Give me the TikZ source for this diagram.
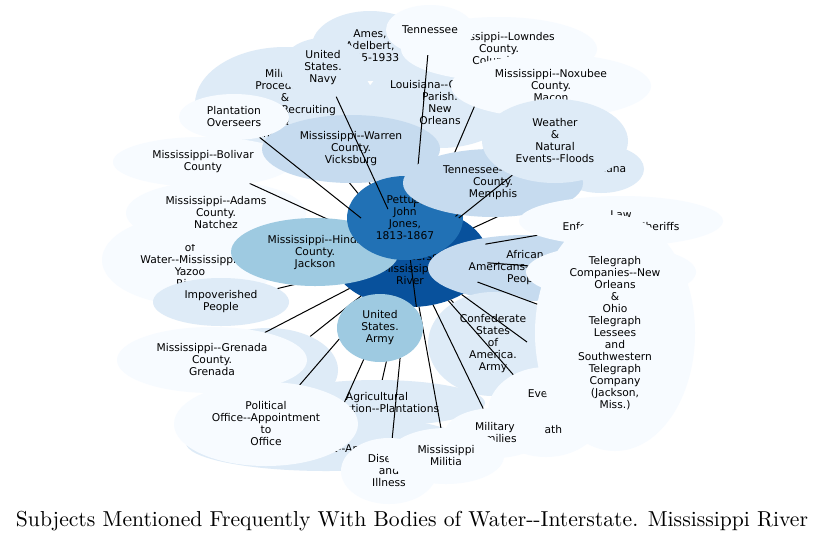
\documentclass[tikz,border=0pt]{standalone}
\usepackage{fontspec}
\newfontfamily\lf{DejaVu Sans}[Ligatures=TeXOff]
\usetikzlibrary{shapes.geometric,calc}
\definecolor{b0}{HTML}{08519C}
\definecolor{b1}{HTML}{2171B5}
\definecolor{b2}{HTML}{9ECAE1}
\definecolor{b3}{HTML}{C6DBEF}
\definecolor{b4}{HTML}{DEEBF7}
\definecolor{b5}{HTML}{F7FBFF}
\tikzset{
  edge/.style={draw=black,line width=1pt},
  lbl/.style={font=\lf\fontsize{10.7}{12}\selectfont,align=center,inner sep=0pt,text=black},
  shp/.style={ellipse,inner sep=0pt,outer sep=0pt}
}
\newcommand\bub[7]{%
  \path node[shp,minimum width=#4*2pt,minimum height=#5*2pt] (#1) at (#2,#3) {};
  \draw[edge] (hub) -- (#1);
  \fill[#6] (#1.center) ellipse [x radius=#4pt, y radius=#5pt];
  \node[lbl] (#1-t) at (#1.center) {#7};}
\begin{document}
\begin{tikzpicture}[x=1pt,y=-1pt]
\useasboundingbox[fill=white] (0,0) rectangle (825,542);
% hub
\path node[shp,minimum width=156pt,minimum height=100pt] (hub) at (410,257) {};
\fill[b0] (hub.center) ellipse [x radius=78pt, y radius=50pt];
\node[lbl] (hub-t) at (hub.center) {Bodies\\of\\Water--Interstate.\\Mississippi\\River};
\bub{ames}{370}{46}{58}{35}{b4}{Ames,\\Adelbert,\\1835-1933}
\bub{milp}{285}{104}{90}{57}{b4}{Military\\Procedures\\\&\\Policies--Recruiting\\\&\\Enlistment}
\bub{lao}{440}{103}{76}{45}{b4}{Louisiana--Orleans\\Parish.\\New\\Orleans}
\bub{low}{499}{49}{98}{32}{b5}{Mississippi--Lowndes\\County.\\Columbus}
\bub{nox}{551}{86}{100}{32}{b5}{Mississippi--Noxubee\\County.\\Macon}
\bub{yaz}{190}{260}{88}{45}{b5}{Bodies\\of\\Water--Mississippi.\\Yazoo\\River}
\bub{ada}{216}{213}{90}{32}{b5}{Mississippi--Adams\\County.\\Natchez}
\bub{bol}{203}{162}{90}{25}{b5}{Mississippi--Bolivar\\County}
\bub{imp}{221}{302}{68}{24}{b4}{Impoverished\\People}
\bub{bump}{268}{370}{70}{42}{b4}{}
\bub{gre}{212}{360}{95}{33}{b5}{Mississippi--Grenada\\County.\\Grenada}
\bub{hin}{315}{252}{84}{34}{b2}{Mississippi--Hinds\\County.\\Jackson}
\bub{war}{351}{149}{89}{34}{b3}{Mississippi--Warren\\County.\\Vicksburg}
\bub{pet}{405}{218}{58}{42}{b1}{Pettus,\\John\\Jones,\\1813-1867}
\bub{navy}{323}{68}{42}{30}{b4}{United\\States.\\Navy}
\bub{pla}{234}{117}{55}{23}{b5}{Plantation\\Overseers}
\bub{ten}{430}{30}{44}{25}{b5}{Tennessee}
\bub{lou}{601}{169}{43}{24}{b4}{Louisiana}
\bub{mem}{493}{183}{90}{34}{b3}{Tennessee--Shelby\\County.\\Memphis}
\bub{wea}{555}{141}{73}{42}{b4}{Weather\\\&\\Natural\\Events--Floods}
\bub{afr}{525}{268}{97}{33}{b3}{African\\Americans--Enslaved\\People}
\bub{law}{621}{221}{102}{25}{b5}{Law\\Enforcement--Sheriffs}
\bub{hid}{611}{272}{85}{27}{b5}{}
\bub{agr}{377}{403}{108}{23}{b4}{Agricultural\\Production--Plantations}
\bub{con}{493}{344}{65}{52}{b4}{Confederate\\States\\of\\America.\\Army}
\coordinate (e-x1) at (527,342);
\draw[edge] (hub) -- (e-x1);
\bub{eve}{546}{412}{58}{45}{b5}{Events\\\mbox{}\\\mbox{}\\Death}
\bub{mfa}{495}{433}{50}{25}{b5}{Military\\Families}
\bub{tel}{615}{333}{80}{118}{b5}{Telegraph\\Companies--New\\Orleans\\\&\\Ohio\\Telegraph\\Lessees\\and\\Southwestern\\Telegraph\\Company\\(Jackson,\\Miss.)}
\bub{law2}{326}{443}{140}{28}{b4}{Law\\Enforcement--Arrests}
\bub{dis}{389}{471}{48}{33}{b5}{Disease\\and\\Illness}
\bub{mil}{446}{456}{58}{28}{b5}{Mississippi\\Militia}
\bub{pol}{266}{424}{92}{42}{b5}{Political\\Office--Appointment\\to\\Office}
\bub{army}{380}{328}{43}{34}{b2}{United\\States.\\Army}
\node[anchor=base] (title) at (412,526) {\resizebox{792pt}{!}{Subjects Mentioned Frequently With Bodies of Water-\kern0pt-Interstate. Mississippi River}};
\end{tikzpicture}
\end{document}
